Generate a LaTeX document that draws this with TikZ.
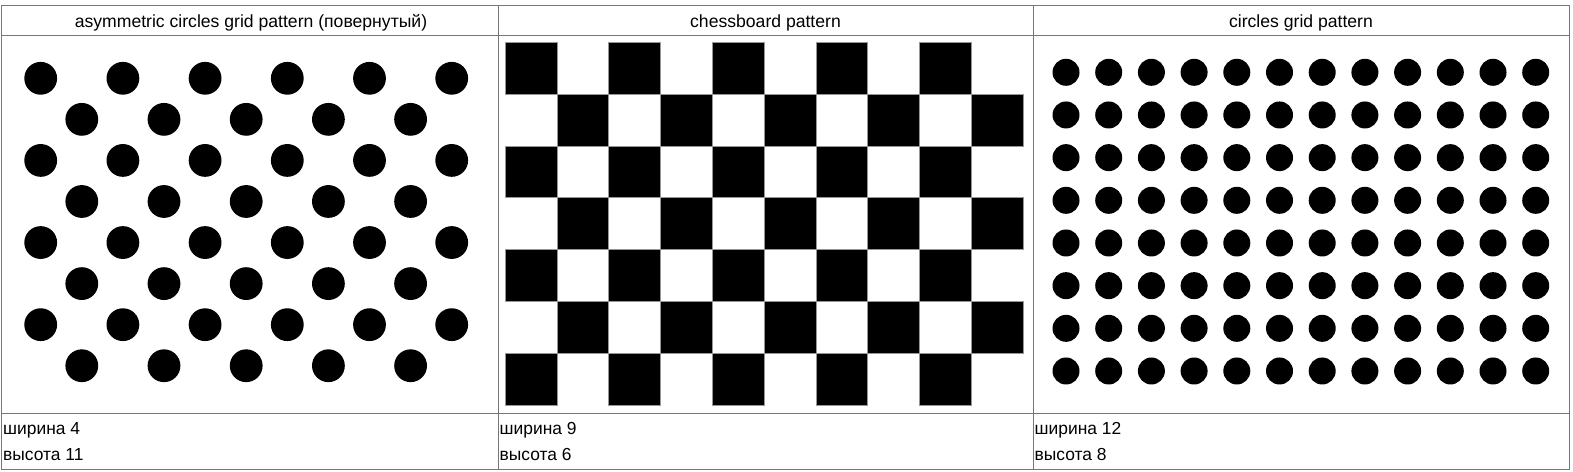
\documentclass[tikz,border=0pt]{standalone}
\usepackage{fontspec}
\setmainfont{Liberation Sans}
\definecolor{rule}{RGB}{118,118,118}
\definecolor{edge}{RGB}{150,150,150}
\begin{document}
\begin{tikzpicture}[x=1pt,y=-1pt,
  gridline/.style={draw=rule,line width=1pt},
  head/.style={inner sep=0pt,anchor=base,font=\fontsize{17.6}{21}\selectfont},
  lbl/.style={inner sep=0pt,anchor=base west,font=\fontsize{17.4}{21}\selectfont},
  dot/.style={fill=black},
  sq/.style={fill=black,draw=edge,line width=0.8pt}]
\useasboundingbox (0,0) rectangle (1573,471);
\fill[white] (0,0) rectangle (1573,471);
% table rules
\draw[gridline] (1,5.5) rectangle (1569,469.5);
\draw[gridline] (1,35.5) -- (1569,35.5);
\draw[gridline] (1,413) -- (1569,413);
\draw[gridline] (498,5.5) -- (498,469.5);
\draw[gridline] (1033,5.5) -- (1033,469.5);
% headers
\node[head] (h1) at (251,27.5) {asymmetric circles grid pattern (повернутый)};
\node[head] (h2) at (765.5,27.5) {chessboard pattern};
\node[head] (h3) at (1301,27.5) {circles grid pattern};
% asymmetric circles grid
\foreach \j in {0,...,7}{
  \pgfmathtruncatemacro{\rowpar}{mod(\j,2)}
  \ifnum\rowpar=0
    \foreach \k in {0,2,...,10}{\fill[dot] (40.7+41.1*\k,78.3+41.06*\j) circle[radius=16.4pt];}
  \else
    \foreach \k in {1,3,...,9}{\fill[dot] (40.7+41.1*\k,78.3+41.06*\j) circle[radius=16.4pt];}
  \fi
}
% chessboard
\foreach \r in {0,...,6}{
  \foreach \c in {0,...,9}{
    \pgfmathtruncatemacro{\cellpar}{mod(\r+\c,2)}
    \ifnum\cellpar=0
      \draw[sq] (505.3+51.77*\c,42.3+51.81*\r) rectangle ++(51.77,51.81);
    \fi
  }
}
% circles grid
\foreach \r in {0,...,7}{
  \foreach \c in {0,...,11}{
    \fill[dot] (1066+42.7*\c,72.3+42.67*\r) circle[radius=13.5pt];
  }
}
% footer labels
\node[lbl] (w1) at (3,434) {ширина 4};
\node[lbl] (v1) at (3,460.5) {высота 11};
\node[lbl] (w2) at (499.5,434) {ширина 9};
\node[lbl] (v2) at (499.5,460.5) {высота 6};
\node[lbl] (w3) at (1034.5,434) {ширина 12};
\node[lbl] (v3) at (1034.5,460.5) {высота 8};
\end{tikzpicture}
\end{document}
